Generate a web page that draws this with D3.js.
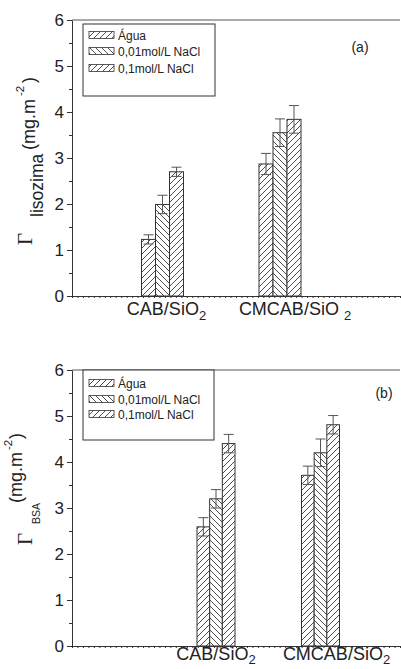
<!DOCTYPE html>
<html>
<head>
<meta charset="utf-8">
<script src="https://cdn.jsdelivr.net/npm/d3@7"></script>
<style>
  body { margin: 0; background: #fff; }
  svg { display: block; }
</style>
</head>
<body>
<svg id="chart"></svg>
<script>
const categories = ["CAB/SiO2", "CMCAB/SiO2"];
const series = ["Água", "0,01mol/L NaCl", "0,1mol/L NaCl"];
const lisozimaValues = [[1.23, 1.99, 2.70], [2.87, 3.55, 3.84]];
const lisozimaErrors = [[0.10, 0.20, 0.10], [0.23, 0.30, 0.30]];
const bsaValues = [[2.59, 3.20, 4.40], [3.71, 4.20, 4.81]];
const bsaErrors = [[0.20, 0.20, 0.20], [0.20, 0.30, 0.20]];
const yTicks = [0, 1, 2, 3, 4, 5, 6];
const yMinorTicks = [0.5, 1.5, 2.5, 3.5, 4.5, 5.5];

const W = 401, H = 669;
const sans = "'Liberation Sans', Arial, Helvetica, sans-serif";
const serif = "'Liberation Serif', 'Times New Roman', serif";
const ink = "#333";

const svg = d3.select("#chart").attr("width", W).attr("height", H);
svg.append("rect").attr("width", W).attr("height", H).attr("fill", "#fff");

// hatch patterns
const defs = svg.append("defs");
function hatch(id, d) {
    defs.append("pattern")
        .attr("id", id)
        .attr("patternUnits", "userSpaceOnUse")
        .attr("width", 6).attr("height", 6)
        .append("path")
        .attr("d", d)
        .attr("stroke", "#222")
        .attr("stroke-width", 0.8)
        .attr("fill", "none");
}
hatch("hatchF", "M0,6L6,0M-1.5,1.5L1.5,-1.5M4.5,7.5L7.5,4.5");
hatch("hatchB", "M0,0L6,6M-1.5,4.5L1.5,7.5M4.5,-1.5L7.5,1.5");
const fills = ["url(#hatchF)", "url(#hatchB)", "url(#hatchF)"];

function rot(g, x, y, txt, size, family) {
    g.append("text")
        .attr("transform", `translate(${x},${y}) rotate(-90)`)
        .attr("font-family", family || sans)
        .attr("font-size", size)
        .attr("fill", "#222")
        .text(txt);
}

const panels = [
    {
        values: lisozimaValues, errors: lisozimaErrors,
        yRange: [296, 20], groups: [162.5, 280], groupWidth: 42,
        legend: { x: 83, y: 24, w: 132, h: 72, rows: [35, 51, 68] },
        tag: "(a)", tagPos: [360, 52],
        catY: 315, catSub: 5, catDx: [4, 15], catSpace: ["", " "],
        ylabel: g => {
            rot(g, 32, 245, "Γ", 21, serif);
            rot(g, 43, 217, "lisozima", 17.5);
            rot(g, 35, 150, "(mg.m", 18);
            rot(g, 24, 96, "-2", 11.5);
            rot(g, 35, 83, ")", 18);
        }
    },
    {
        values: bsaValues, errors: bsaErrors,
        yRange: [646, 370], groups: [216, 320.5], groupWidth: 38,
        legend: { x: 83, y: 370, w: 131, h: 70, rows: [383, 399, 414] },
        tag: "(b)", tagPos: [384, 398],
        catY: 660, catSub: 4, catDx: [0, 16], catSpace: ["", ""],
        ylabel: g => {
            rot(g, 32, 545, "Γ", 21, serif);
            rot(g, 40, 524, "BSA", 10.5);
            rot(g, 22, 503, "(mg.m", 18);
            rot(g, 12, 450, "-2", 11.5);
            rot(g, 22, 439, ")", 18);
        }
    }
];

panels.forEach(p => {
    const g = svg.append("g");
    const y = d3.scaleLinear().domain([0, 6]).range(p.yRange);
    const x = d3.scalePoint().domain(categories).range(p.groups);
    const xSub = d3.scaleBand().domain(series).range([-p.groupWidth / 2, p.groupWidth / 2]);
    const xMinor = d3.scaleLinear().domain([0, 60]).range([72, 400]);

    // top frame line
    g.append("line")
        .attr("x1", 72).attr("x2", 400)
        .attr("y1", y(6)).attr("y2", y(6))
        .attr("stroke", "#555").attr("stroke-width", 1);

    // bars
    categories.forEach((c, ci) => {
        series.forEach((s, si) => {
            const v = p.values[ci][si];
            g.append("rect")
                .attr("x", x(c) + xSub(s))
                .attr("y", y(v))
                .attr("width", xSub.bandwidth())
                .attr("height", y(0) - y(v))
                .attr("fill", "#fff");
            g.append("rect")
                .attr("x", x(c) + xSub(s))
                .attr("y", y(v))
                .attr("width", xSub.bandwidth())
                .attr("height", y(0) - y(v))
                .attr("fill", fills[si])
                .attr("stroke", ink)
                .attr("stroke-width", 1);
        });
    });

    // error bars
    categories.forEach((c, ci) => {
        series.forEach((s, si) => {
            const v = p.values[ci][si], e = p.errors[ci][si];
            const cx = x(c) + xSub(s) + xSub.bandwidth() / 2;
            const eb = g.append("g").attr("stroke", "#555").attr("stroke-width", 1);
            eb.append("line").attr("x1", cx).attr("x2", cx).attr("y1", y(v - e)).attr("y2", y(v + e));
            eb.append("line").attr("x1", cx - 5).attr("x2", cx + 5).attr("y1", y(v + e)).attr("y2", y(v + e));
            eb.append("line").attr("x1", cx - 5).attr("x2", cx + 5).attr("y1", y(v - e)).attr("y2", y(v - e));
        });
    });

    // axes
    const yAxis = g.append("g")
        .attr("transform", "translate(72,0)")
        .call(d3.axisLeft(y).tickValues(yTicks).tickFormat(d3.format("d"))
            .tickSize(5).tickSizeOuter(0).tickPadding(3));
    yAxis.selectAll("text").attr("font-family", sans).attr("font-size", 17).attr("fill", "#222");
    yAxis.selectAll("path, line").attr("stroke", ink);

    const yMinor = g.append("g")
        .attr("transform", "translate(72,0)")
        .call(d3.axisLeft(y).tickValues(yMinorTicks).tickSize(3).tickSizeOuter(0).tickFormat(""));
    yMinor.select("path").remove();
    yMinor.selectAll("line").attr("stroke", ink);

    const xAxis = g.append("g")
        .attr("transform", `translate(0,${y(0)})`)
        .call(d3.axisBottom(xMinor).ticks(60).tickSize(2).tickSizeOuter(0).tickFormat(""));
    xAxis.selectAll("path, line").attr("stroke", ink);

    // category labels
    categories.forEach((c, ci) => {
        const t = g.append("text")
            .attr("x", x(c) + p.catDx[ci])
            .attr("y", p.catY)
            .attr("text-anchor", "middle")
            .attr("font-family", sans)
            .attr("font-size", 18)
            .attr("fill", "#222");
        t.append("tspan").text(c.slice(0, -1) + p.catSpace[ci]);
        t.append("tspan").attr("dy", p.catSub).attr("font-size", 13).text(c.slice(-1));
    });

    // legend
    const L = p.legend;
    g.append("rect")
        .attr("x", L.x).attr("y", L.y).attr("width", L.w).attr("height", L.h)
        .attr("fill", "#fff").attr("stroke", ink).attr("stroke-width", 1);
    series.forEach((s, si) => {
        g.append("rect")
            .attr("x", 89).attr("y", L.rows[si] - 3.5)
            .attr("width", 25).attr("height", 7)
            .attr("fill", fills[si]).attr("stroke", ink).attr("stroke-width", 0.8);
        g.append("text")
            .attr("x", 118).attr("y", L.rows[si] + 4.5)
            .attr("font-family", sans).attr("font-size", 12).attr("fill", "#222")
            .text(s);
    });

    // panel tag
    g.append("text")
        .attr("x", p.tagPos[0]).attr("y", p.tagPos[1])
        .attr("text-anchor", "middle")
        .attr("font-family", sans).attr("font-size", 14).attr("fill", "#222")
        .text(p.tag);

    p.ylabel(g);
});
</script>
</body>
</html>
